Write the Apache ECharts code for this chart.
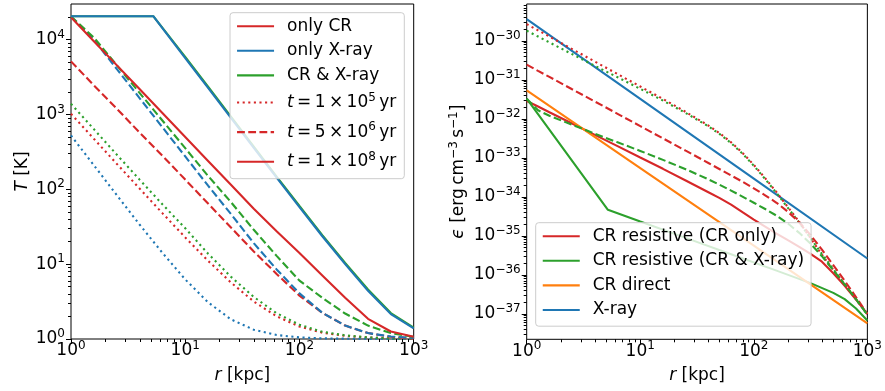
<!DOCTYPE html>
<html><head><meta charset="utf-8">
<script src="https://cdn.jsdelivr.net/npm/echarts@6/dist/echarts.min.js"></script>
<style>html,body{margin:0;padding:0;background:#fff}#c{width:885px;height:391px}</style>
</head><body><div id="c"></div>
<script>
// ---------------- DATA ----------------
// Left panel: temperature T [K] vs radius r [kpc]
const rLeft = [1, 1.585, 2.512, 3.981, 6.310, 10, 15.85, 25.12, 39.81, 63.10, 100, 158.5, 251.2, 398.1, 631.0, 1000];
const T_CR_1e5  = [1023, 474, 220, 102.6, 48.1, 22.8, 11.1, 5.69, 3.17, 2.01, 1.466, 1.216, 1.099, 1.047, 1.021, 1.009];
const T_X_1e5   = [525, 210, 84, 33.9, 14.2, 6.25, 3.09, 1.83, 1.33, 1.13, 1.05, 1.02, 1.01, 1.005, 1.002, 1.001];
const T_CRX_1e5 = [1390, 638, 292, 135, 63.1, 30.2, 13.8, 6.79, 3.65, 2.21, 1.55, 1.25, 1.12, 1.05, 1.02, 1.01];
const T_CR_5e6  = [5130, 2455, 1202, 575, 282, 135, 64.6, 30.9, 14.8, 7.41, 3.80, 2.24, 1.51, 1.20, 1.07, 1.02];
const T_X_5e6   = [20400, 10000, 4074, 1660, 676, 275, 112, 46.8, 19.1, 8.51, 4.07, 2.24, 1.51, 1.20, 1.08, 1.035];
const T_CRX_5e6 = [20400, 10720, 4571, 1950, 832, 355, 151, 67.6, 28.8, 12.9, 6.03, 3.55, 2.19, 1.51, 1.20, 1.07];
const T_CR_1e8  = [19950, 9550, 4571, 2188, 1047, 501, 240, 115, 55, 27.5, 14.1, 7.08, 3.55, 1.86, 1.26, 1.07];
const rPlateau  = [1, 5.25, 10, 15.85, 25.12, 39.81, 63.10, 100, 158.5, 251.2, 398.1, 631.0, 1000];
const T_X_1e8   = [20600, 20600, 5690, 2265, 902, 359, 143, 58, 23.6, 10.0, 4.4, 2.15, 1.39];
const T_CRX_1e8 = [20600, 20600, 5900, 2350, 935, 372, 148, 60, 24.5, 10.4, 4.6, 2.22, 1.42];

// Right panel: heating rate eps [erg cm^-3 s^-1] vs r [kpc]
const rRight = [1, 1.259, 1.585, 2.512, 3.981, 6.310, 10, 15.85, 25.12, 39.81, 50.12, 63.10, 79.43, 100, 125.9, 158.5, 199.5, 251.2, 316.2, 398.1, 501.2, 631.0, 794.3, 1000];
const E_CR_1e5  = [2.69e-30, 1.86e-30, 1.29e-30, 6.17e-31, 2.95e-31, 1.41e-31, 6.76e-32, 3.24e-32, 1.51e-32, 6.76e-33, 4.27e-33, 2.51e-33, 1.35e-33, 6.61e-34, 3.02e-34, 1.32e-34, 5.50e-35, 2.29e-35, 8.71e-36, 3.31e-36, 1.35e-36, 5.62e-37, 2.40e-37, 1.00e-37];
const E_CRX_1e5 = [1.82e-30, 1.29e-30, 9.12e-31, 4.57e-31, 2.29e-31, 1.17e-31, 5.89e-32, 2.95e-32, 1.41e-32, 6.46e-33, 4.07e-33, 2.40e-33, 1.29e-33, 6.31e-34, 2.88e-34, 1.26e-34, 5.25e-35, 2.19e-35, 8.71e-36, 3.47e-36, 1.41e-36, 5.75e-37, 2.40e-37, 9.55e-38];
const E_CR_5e6  = [2.45e-31, 1.70e-31, 1.19e-31, 5.75e-32, 2.79e-32, 1.35e-32, 6.53e-33, 3.16e-33, 1.53e-33, 7.41e-34, 5.13e-34, 3.55e-34, 2.45e-34, 1.66e-34, 1.10e-34, 7.08e-35, 4.17e-35, 2.24e-35, 1.05e-35, 4.47e-36, 1.78e-36, 7.08e-37, 2.69e-37, 1.00e-37];
const E_CRX_5e6 = [3.31e-32, 1.66e-32, 1.20e-32, 7.08e-33, 4.17e-33, 2.51e-33, 1.51e-33, 8.91e-34, 5.13e-34, 2.82e-34, 2.04e-34, 1.45e-34, 1.02e-34, 7.08e-35, 4.90e-35, 3.31e-35, 2.09e-35, 1.20e-35, 6.31e-36, 3.02e-36, 1.32e-36, 5.75e-37, 2.40e-37, 9.55e-38];
const E_CR_1e8  = [2.88e-32, 2.07e-32, 1.48e-32, 7.59e-33, 3.89e-33, 2.00e-33, 1.02e-33, 5.25e-34, 2.63e-34, 1.32e-34, 9.33e-35, 6.31e-35, 4.07e-35, 2.63e-35, 1.74e-35, 1.15e-35, 7.76e-36, 5.25e-36, 3.47e-36, 2.19e-36, 1.10e-36, 5.25e-37, 2.34e-37, 1.00e-37];
const rGreenSolid = [1, 5.19, 10, 25.12, 63.1, 158.5, 316.2, 501.2, 631.0, 794.3, 1000];
const E_CRX_1e8 = [3.31e-32, 4.68e-35, 2.34e-35, 8.91e-36, 3.39e-36, 1.29e-36, 6.17e-37, 3.47e-37, 2.40e-37, 1.38e-37, 6.76e-38];
const rStraight = [1, 10, 100, 1000];
const E_direct  = [5.37e-32, 5.50e-34, 5.62e-36, 5.75e-38];
const E_xray    = [3.61e-30, 3.25e-32, 2.93e-34, 2.64e-36];

// Axis ranges (log10 of values)
const xRange = [0, 3];
const yRangeL = [0, 4.4771];
const yRangeR = [-37.65, -29.055];

// ---------------- STYLE ----------------
const FONT = "'DejaVu Sans', sans-serif";
const RED = '#d62728', BLUE = '#1f77b4', GREEN = '#2ca02c', ORANGE = '#ff7f0e';
const DOT = [2.1, 3.5], DASH = [7.8, 3.4], SOLID = 'solid';
const LW = 2.1;
const FS = 17, FSS = 12;

const lg = Math.log10;
const pts = (r, v) => r.map((x, i) => [lg(x), lg(v[i])]);

function majorVals(lo, hi) { const o = []; for (let n = Math.ceil(lo - 1e-9); n <= hi + 1e-9; n++) o.push(n); return o; }
function minorVals(lo, hi) {
  const o = [];
  for (let n = Math.floor(lo) - 1; n <= Math.ceil(hi); n++)
    for (let k = 2; k <= 9; k++) { const v = n + lg(k); if (v > lo + 1e-6 && v < hi - 1e-6) o.push(v); }
  return o;
}
const TXT = { fontFamily: FONT, color: '#000' };
const RICH = {
  b: Object.assign({ fontSize: FS, lineHeight: 18 }, TXT),
  n: Object.assign({ fontSize: FS, lineHeight: 18 }, TXT),
  i: Object.assign({ fontSize: FS, lineHeight: 18, fontStyle: 'italic' }, TXT),
  s: Object.assign({ fontSize: FSS, lineHeight: 12, padding: [0, 0, 10, 0] }, TXT),
  p: Object.assign({ fontSize: FS, lineHeight: 18, width: 8 }, TXT)
};
const fmtPow = v => { const n = Math.round(v); return '{b|10}{s|' + (n < 0 ? '\u2212' + (-n) : n) + '}'; };

function axis(dim, gi, range, major, name, gap) {
  const a = {
    type: 'value', gridIndex: gi, min: range[0], max: range[1],
    position: dim === 'x' ? 'bottom' : 'left',
    axisLine: { show: false, onZero: false },
    splitLine: { show: false },
    axisTick: { show: true, inside: false, length: major ? 5 : 3, lineStyle: { color: '#000', width: 1 },
      customValues: major ? majorVals(range[0], range[1]) : minorVals(range[0], range[1]) },
    axisLabel: major ? { show: true, margin: dim === 'x' ? 3 : 6, customValues: majorVals(range[0], range[1]),
      formatter: fmtPow, rich: RICH } : { show: false }
  };
  if (name) { a.name = name; a.nameLocation = 'middle'; a.nameGap = gap; a.nameTextStyle = { rich: RICH }; }
  return a;
}

function line(name, xi, yi, data, color, type, z) {
  return { type: 'line', name, xAxisIndex: xi, yAxisIndex: yi, data, symbol: 'none', showSymbol: false,
    lineStyle: { color, width: LW, type }, itemStyle: { color }, z: z || 2, silent: true, clip: true };
}

const xName = '{i|r}{n| [kpc]}';
const series = [
  // left panel (axes 0 major)
  line('L_CR_1e5', 0, 0, pts(rLeft, T_CR_1e5), RED, DOT),
  line('L_X_1e5', 0, 0, pts(rLeft, T_X_1e5), BLUE, DOT),
  line('L_CRX_1e5', 0, 0, pts(rLeft, T_CRX_1e5), GREEN, DOT),
  line('L_CR_5e6', 0, 0, pts(rLeft, T_CR_5e6), RED, DASH),
  line('L_X_5e6', 0, 0, pts(rLeft, T_X_5e6), BLUE, DASH),
  line('L_CRX_5e6', 0, 0, pts(rLeft, T_CRX_5e6), GREEN, DASH),
  line('L_CR_1e8', 0, 0, pts(rLeft, T_CR_1e8), RED, SOLID),
  line('L_CRX_1e8', 0, 0, pts(rPlateau, T_CRX_1e8), GREEN, SOLID),
  line('L_X_1e8', 0, 0, pts(rPlateau, T_X_1e8), BLUE, SOLID),
  // legend-only entries, left
  line('only CR', 0, 0, [], RED, SOLID),
  line('only X-ray', 0, 0, [], BLUE, SOLID),
  line('CR & X-ray', 0, 0, [], GREEN, SOLID),
  line('t1', 0, 0, [], RED, DOT),
  line('t2', 0, 0, [], RED, DASH),
  line('t3', 0, 0, [], RED, SOLID),
  // right panel (axes 2 major)
  line('CR resistive (CR only)', 2, 2, pts(rRight, E_CR_1e8), RED, SOLID),
  line('CR resistive (CR & X-ray)', 2, 2, pts(rGreenSolid, E_CRX_1e8), GREEN, SOLID),
  line('CR direct', 2, 2, pts(rStraight, E_direct), ORANGE, SOLID),
  line('X-ray', 2, 2, pts(rStraight, E_xray), BLUE, SOLID),
  line('R_CR_1e5', 2, 2, pts(rRight, E_CR_1e5), RED, DOT),
  line('R_CRX_1e5', 2, 2, pts(rRight, E_CRX_1e5), GREEN, DOT),
  line('R_CR_5e6', 2, 2, pts(rRight, E_CR_5e6), RED, DASH),
  line('R_CRX_5e6', 2, 2, pts(rRight, E_CRX_5e6), GREEN, DASH)
];

const tLabel = (m, e) => '{p| }{i|t}{n|\u2009=\u2009' + m + '\u2009\u00d7\u200910}{s|' + e + '}{n|\u2009yr}';
const LEG = { 't1': tLabel(1, 5), 't2': tLabel(5, 6), 't3': tLabel(1, 8) };
const legBase = {
  orient: 'vertical', itemWidth: 37, itemHeight: 14, itemGap: 7.6, selectedMode: false,
  backgroundColor: 'rgba(255,255,255,0.8)', borderColor: '#cccccc', borderWidth: 1, borderRadius: 3,
  lineStyle: { width: 2.1 },
  itemStyle: { opacity: 0, borderWidth: 0 },
  textStyle: { fontFamily: FONT, fontSize: FS, color: '#000', rich: RICH },
  formatter: n => LEG[n] || ('{p| }{n|' + n + '}')
};

const option = {
  animation: false,
  backgroundColor: '#fff',
  grid: [
    { left: 71, top: 4, width: 342.7, height: 335, show: true, borderColor: '#000', borderWidth: 1, backgroundColor: 'transparent' },
    { left: 526.7, top: 4, width: 342.6, height: 335.3, show: true, borderColor: '#000', borderWidth: 1, backgroundColor: 'transparent' }
  ],
  xAxis: [
    axis('x', 0, xRange, true, xName, 26),
    axis('x', 0, xRange, false),
    axis('x', 1, xRange, true, xName, 26),
    axis('x', 1, xRange, false)
  ],
  yAxis: [
    axis('y', 0, yRangeL, true, '{i|T}{n| [K]}', 39),
    axis('y', 0, yRangeL, false),
    axis('y', 1, yRangeR, true, '{i|\u03f5}{n| [erg\u2009cm}{s|\u22123}{n|\u2009s}{s|\u22121}{n|]}', 57),
    axis('y', 1, yRangeR, false)
  ],
  legend: [
    Object.assign({}, legBase, { left: 230, top: 12.7, padding: [5, 8, 6, 6],
      data: ['only CR', 'only X-ray', 'CR & X-ray', 't1', 't2', 't3'] }),
    Object.assign({}, legBase, { left: 535.7, top: 222.7, padding: [5, 7, 7.7, 6],
      data: ['CR resistive (CR only)', 'CR resistive (CR & X-ray)', 'CR direct', 'X-ray'] })
  ],
  series
};
const chart = echarts.init(document.getElementById('c'), null, { renderer: 'canvas' });
chart.setOption(option);
</script></body></html>
